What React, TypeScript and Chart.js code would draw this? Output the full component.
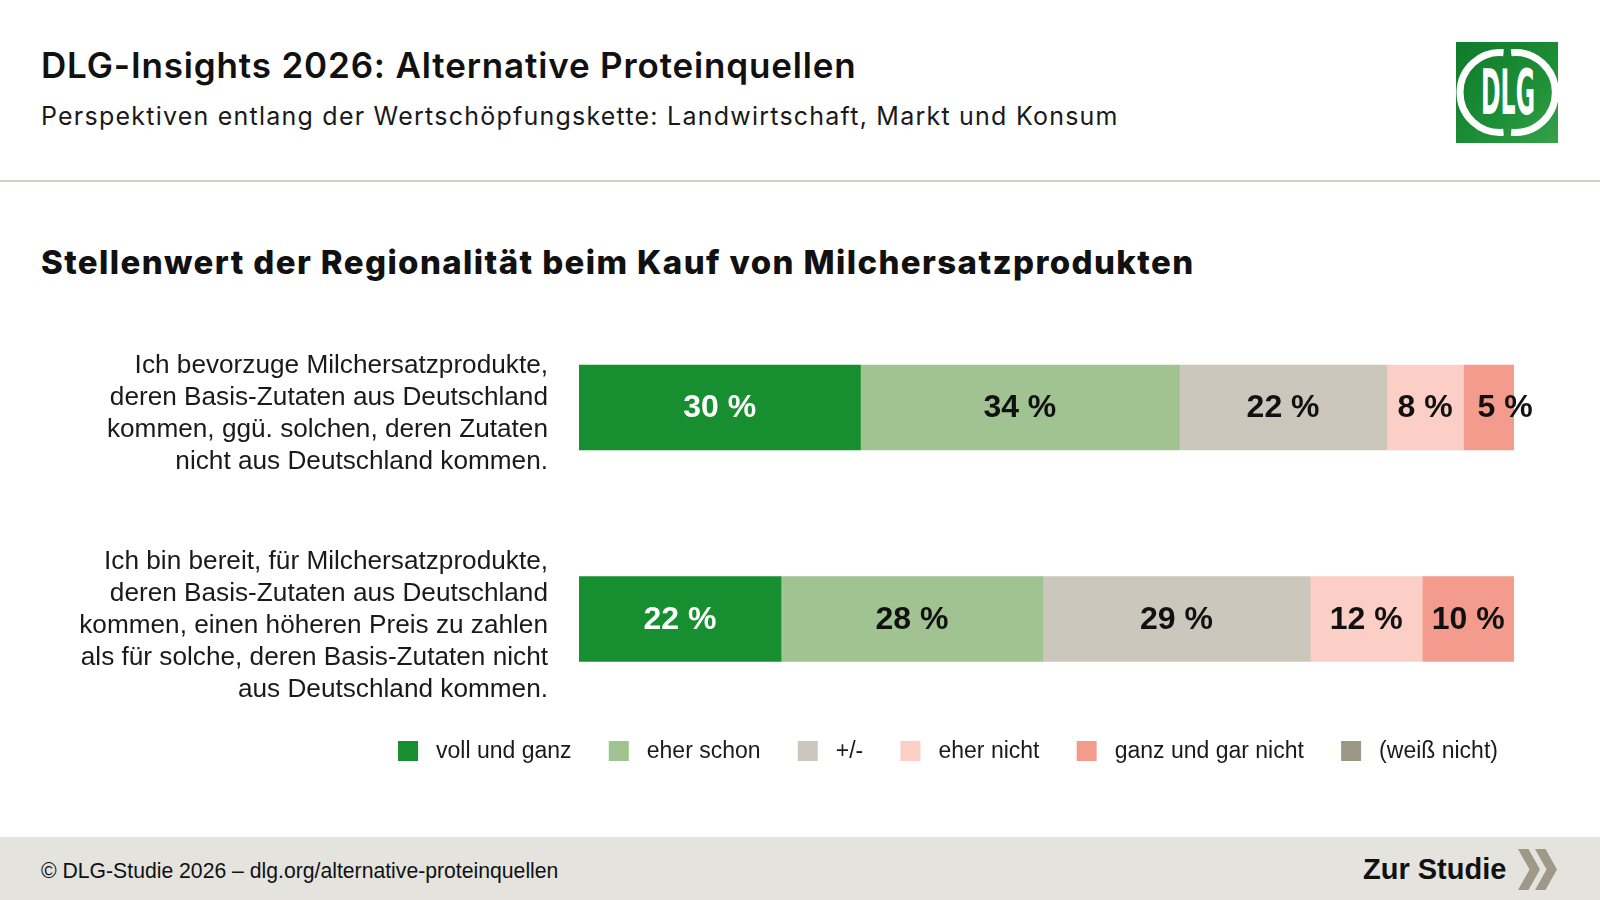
import React, { useEffect, useRef } from 'react';
import { Chart, registerables } from 'chart.js';

Chart.register(...registerables);

// ---------- data ----------
const CATEGORIES: string[][] = [
  [
    'Ich bevorzuge Milchersatzprodukte,',
    'deren Basis-Zutaten aus Deutschland',
    'kommen, ggü. solchen, deren Zutaten',
    'nicht aus Deutschland kommen.',
  ],
  [
    'Ich bin bereit, für Milchersatzprodukte,',
    'deren Basis-Zutaten aus Deutschland',
    'kommen, einen höheren Preis zu zahlen',
    'als für solche, deren Basis-Zutaten nicht',
    'aus Deutschland kommen.',
  ],
];

const SERIES_NAMES = ['voll und ganz', 'eher schon', '+/-', 'eher nicht', 'ganz und gar nicht', '(weiß nicht)'];

const VOLL_UND_GANZ = [30.1, 21.6];
const EHER_SCHON = [34.1, 28.0];
const TEILS_TEILS = [22.2, 28.6];
const EHER_NICHT = [8.2, 12.0];
const GAR_NICHT = [5.4, 9.8];
const WEISS_NICHT = [0, 0];

const SERIES_VALUES = [VOLL_UND_GANZ, EHER_SCHON, TEILS_TEILS, EHER_NICHT, GAR_NICHT, WEISS_NICHT];
const SERIES_COLORS = ['#178f30', '#a0c391', '#cbc7bc', '#fbcfc5', '#f39b8d', '#9c9886'];
const LABEL_COLORS = ['#ffffff', '#111111', '#111111', '#111111', '#111111', '#111111'];

const AXIS_MIN = 0;
const AXIS_MAX = 100;

// ---------- layout constants ----------
const SANS = '"Liberation Sans", Arial, Helvetica, sans-serif';
const HEAD = 'Inter, "Noto Sans", sans-serif';
const CANVAS_TOP = 0;
const CANVAS_H = 900;

const valueLabels = {
  id: 'valueLabels',
  afterDatasetsDraw(chart: any) {
    const ctx = chart.ctx;
    ctx.save();
    ctx.font = `bold 32px ${SANS}`;
    ctx.textAlign = 'center';
    ctx.textBaseline = 'middle';
    chart.data.datasets.forEach((ds: any, di: number) => {
      const meta = chart.getDatasetMeta(di);
      meta.data.forEach((bar: any, i: number) => {
        const v = ds.data[i] as number;
        if (!v) return;
        const p = bar.getProps(['x', 'base', 'y'], true);
        const text = `${Math.round(v)} %`;
        const w = ctx.measureText(text).width;
        const segW = Math.abs(p.x - p.base);
        let cx = (p.x + p.base) / 2;
        if (w > segW) cx = Math.min(p.x, p.base) + 14 + w / 2;
        ctx.fillStyle = LABEL_COLORS[di];
        ctx.fillText(text, cx, p.y + 1);
      });
    });
    ctx.restore();
  },
};

const bottomLegend = {
  id: 'bottomLegend',
  afterDraw(chart: any, _args: any, opts: any) {
    const ctx = chart.ctx;
    ctx.save();
    ctx.font = `23px ${SANS}`;
    ctx.textBaseline = 'middle';
    ctx.textAlign = 'left';
    const box = 20;
    const gap = 18;
    const spacing = 37.2;
    const items = chart.data.datasets.map((ds: any) => ({
      text: ds.label as string,
      color: ds.backgroundColor as string,
      w: ctx.measureText(ds.label).width,
    }));
    const total =
      items.reduce((s: number, it: any) => s + box + gap + it.w, 0) + spacing * (items.length - 1);
    let x = opts.centerX - total / 2;
    const y = opts.y;
    items.forEach((it: any) => {
      ctx.fillStyle = it.color;
      ctx.fillRect(x, y - box / 2, box, box);
      ctx.fillStyle = '#1a1a1a';
      ctx.fillText(it.text, x + box + gap, y + 1);
      x += box + gap + it.w + spacing;
    });
    ctx.restore();
  },
};

function StackedChart() {
  const ref = useRef<HTMLCanvasElement | null>(null);
  useEffect(() => {
    if (!ref.current) return;
    const chart = new Chart(ref.current, {
      type: 'bar',
      data: {
        labels: CATEGORIES as any,
        datasets: SERIES_VALUES.map((data, k) => ({
          label: SERIES_NAMES[k],
          data,
          backgroundColor: SERIES_COLORS[k],
          borderWidth: 0,
          barThickness: 85,
        })),
      },
      options: {
        indexAxis: 'y',
        responsive: false,
        animation: false,
        events: [],
        layout: { padding: { top: 301.75, bottom: 175.25, left: 0, right: 86 } },
        scales: {
          x: { stacked: true, min: AXIS_MIN, max: AXIS_MAX, display: false },
          y: {
            stacked: true,
            grid: { display: false, drawTicks: false },
            border: { display: false },
            ticks: {
              padding: 31,
              labelOffset: 6.5,
              color: '#1a1a1a',
              font: { family: SANS, size: 26.2, lineHeight: 1.225 },
            },
            afterFit: (s: any) => {
              s.width = 579;
            },
          },
        },
        plugins: {
          legend: { display: false },
          tooltip: { enabled: false },
          bottomLegend: { centerX: 948, y: 751 - CANVAS_TOP },
        } as any,
      },
      plugins: [valueLabels, bottomLegend],
    });
    return () => chart.destroy();
  }, []);
  return (
    <canvas
      ref={ref}
      width={1600}
      height={CANVAS_H}
      style={{ position: 'absolute', left: 0, top: CANVAS_TOP, width: 1600, height: CANVAS_H, display: 'block' }}
    />
  );
}

function Logo() {
  const cx = 51;
  const cy = 50.5;
  const r = 40;
  const a = (deg: number) => [cx + r * Math.cos((deg * Math.PI) / 180), cy + r * Math.sin((deg * Math.PI) / 180)];
  const [l1x, l1y] = a(-95);
  const [l2x, l2y] = a(95);
  const [r1x, r1y] = a(-84);
  const [r2x, r2y] = a(84);
  return (
    <svg width={102} height={101} style={{ position: 'absolute', left: 1456, top: 42 }}>
      <defs>
        <linearGradient id="dlgG" x1="0" y1="0" x2="1" y2="1">
          <stop offset="0" stopColor="#0f7a2c" />
          <stop offset="0.6" stopColor="#1d8f36" />
          <stop offset="1" stopColor="#36a24a" />
        </linearGradient>
      </defs>
      <rect x={0} y={0} width={102} height={101} fill="url(#dlgG)" />
      <path d={`M ${l1x} ${l1y} A ${r} ${r} 0 1 0 ${l2x} ${l2y}`} stroke="#fff" strokeWidth={7} fill="none" />
      <path d={`M ${r1x} ${r1y} A ${r} ${r} 0 1 1 ${r2x} ${r2y}`} stroke="#fff" strokeWidth={7} fill="none" />
      <text
        x={25}
        y={72}
        fill="#fff"
        fontFamily='"Liberation Sans Narrow", "DejaVu Sans Condensed", "Liberation Sans", sans-serif'
        fontWeight={700}
        fontSize={62}
        textLength={54}
        lengthAdjust="spacingAndGlyphs"
      >
        DLG
      </text>
    </svg>
  );
}

export default function App() {
  return (
    <div
      style={{
        position: 'fixed',
        left: 0,
        top: 0,
        width: 1600,
        height: 900,
        overflow: 'hidden',
        background: '#ffffff',
        color: '#111111',
      }}
    >
      <div
        style={{
          position: 'absolute',
          left: 41,
          top: 48,
          fontFamily: HEAD,
          fontWeight: 600,
          fontSize: 35,
          lineHeight: '35px',
          letterSpacing: '0.84px',
          whiteSpace: 'nowrap',
          color: '#111',
        }}
      >
        DLG-Insights 2026: Alternative Proteinquellen
      </div>
      <div
        style={{
          position: 'absolute',
          left: 41,
          top: 104,
          fontFamily: HEAD,
          fontWeight: 400,
          fontSize: 25,
          lineHeight: '25px',
          letterSpacing: '1.23px',
          whiteSpace: 'nowrap',
          color: '#1a1a1a',
        }}
      >
        Perspektiven entlang der Wertschöpfungskette: Landwirtschaft, Markt und Konsum
      </div>
      <Logo />
      <div style={{ position: 'absolute', left: 0, top: 180, width: 1600, height: 2, background: '#d3d1c6' }} />
      <div
        style={{
          position: 'absolute',
          left: 41,
          top: 245.8,
          fontFamily: HEAD,
          fontWeight: 800,
          fontSize: 33,
          lineHeight: '33px',
          letterSpacing: '1.39px',
          whiteSpace: 'nowrap',
          color: '#111',
        }}
      >
        Stellenwert der Regionalität beim Kauf von Milchersatzprodukten
      </div>
      <StackedChart />
      <div style={{ position: 'absolute', left: 0, top: 837, width: 1600, height: 63, background: '#e4e3de' }} />
      <div
        style={{
          position: 'absolute',
          left: 41,
          top: 860,
          fontFamily: SANS,
          fontSize: 21.2,
          lineHeight: '21.2px',
          whiteSpace: 'nowrap',
          color: '#111',
        }}
      >
        © DLG-Studie 2026 – dlg.org/alternative-proteinquellen
      </div>
      <div
        style={{
          position: 'absolute',
          left: 1363,
          top: 854.5,
          fontFamily: SANS,
          fontWeight: 700,
          fontSize: 29,
          lineHeight: '29px',
          whiteSpace: 'nowrap',
          color: '#111',
        }}
      >
        Zur Studie
      </div>
      <svg width={44} height={44} style={{ position: 'absolute', left: 1518, top: 849 }}>
        <polygon points="0,0 10.5,0 22,20.5 10.5,41 0,41 11.5,20.5" fill="#9f9a87" />
        <polygon points="17,0 27.5,0 39,20.5 27.5,41 17,41 28.5,20.5" fill="#9f9a87" />
      </svg>
    </div>
  );
}
